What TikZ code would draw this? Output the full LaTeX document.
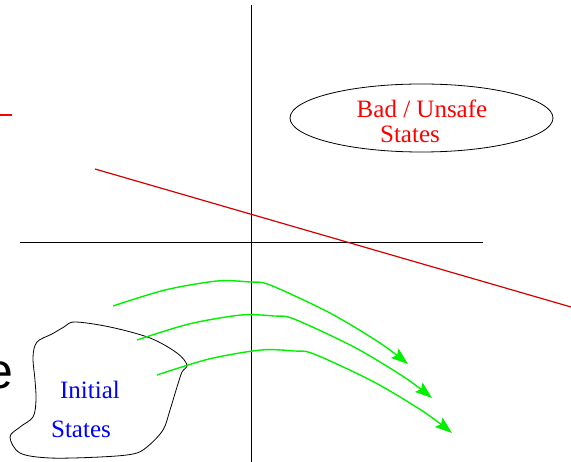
\documentclass[tikz,border=0pt]{standalone}
\usepackage{fontspec}
\setmainfont{Liberation Serif}
\newfontfamily\cutsans{Liberation Sans}
\usetikzlibrary{arrows.meta, shapes.geometric}

\definecolor{sred}{RGB}{255, 0, 0}
\definecolor{dred}{RGB}{210, 0, 0}
\definecolor{sgre}{RGB}{0, 240, 0}
\definecolor{sblu}{RGB}{0, 0, 255}

\tikzset{
  axisline/.style={black, line width=0.8pt},
  regionlabel/.style={font=\fontsize{25}{30}\selectfont, inner sep=0pt},
  flowarrow/.style={sgre, line width=1.4pt, -{Stealth[length=17pt, width=12pt, inset=3pt]}}
}

\begin{document}
\begin{tikzpicture}[x=1pt, y=-1pt]
  \useasboundingbox (0,0) rectangle (571,462);

  % --- Axes ---
  \coordinate (ytop) at (251,5);
  \coordinate (ybot) at (251,462);
  \coordinate (xleft) at (20,242);
  \coordinate (xright) at (483,242);
  \draw[axisline] (ytop) -- (ybot);
  \draw[axisline] (xleft) -- (xright);

  % --- Red lines ---
  \coordinate (cutA) at (0,115);
  \coordinate (cutB) at (12,115);
  \draw[sred, line width=1.4pt] (cutA) -- (cutB);
  \coordinate (sepA) at (95,169);
  \coordinate (sepB) at (571,307);
  \draw[dred, line width=1.2pt] (sepA) -- (sepB);

  % --- Bad states ---
  \node[draw, ellipse, minimum width=263pt, minimum height=68pt, inner sep=0pt,
        line width=0.8pt] (bad) at (421.5,118) {};
  \node[regionlabel, sred, anchor=base] (badA) at (422,118) {Bad / Unsafe};
  \node[regionlabel, sred, anchor=base] (badB) at (410,143) {States};

  % --- Initial states blob ---
  \draw[line width=0.8pt] plot[smooth cycle, tension=0.55] coordinates {
      (75,322) (110,327) (150,338) (177,353) (187,365) (182,372)
      (177,387) (170,410) (163,430) (147,447) (133,454) (100,457)
      (50,458) (20,453) (10,437) (20,427) (33,417) (36,400)
      (35,380) (33,357) (37,342) (52,334) (64,327)};
  \node[regionlabel, sblu, anchor=base] (initA) at (90,399) {Initial};
  \node[regionlabel, sblu, anchor=base] (initB) at (81,438) {States};

  % --- Cut-off letter ---
  \node[font=\cutsans\fontsize{50}{60}\selectfont, inner sep=0pt, anchor=base east]
      (cute) at (14,389) {e};

  % --- Trajectories ---
  \foreach \dx/\dy in {0/0, 24/34, 44/69} {
      \begin{scope}[shift={(\dx,\dy)}]
        \draw[flowarrow] plot[smooth, tension=0.5] coordinates {
            (113,306) (165,290) (217,281) (250,282) (270,285)
            (330,313) (380,343) (408,364)};
      \end{scope}
    }

\end{tikzpicture}
\end{document}
